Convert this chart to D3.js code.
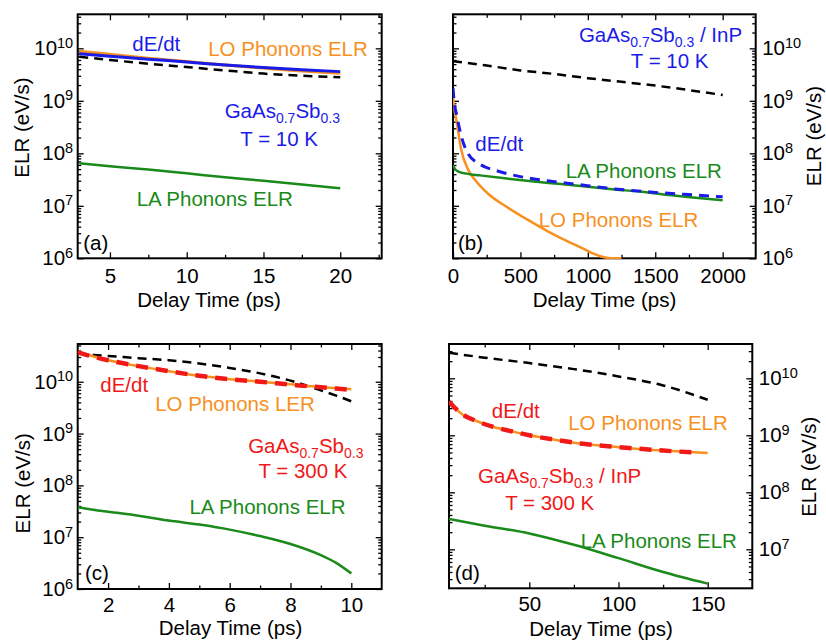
<!DOCTYPE html>
<html>
<head>
<meta charset="utf-8">
<script src="https://cdn.jsdelivr.net/npm/d3@7"></script>
<style>
  body { margin: 0; background: #fff; }
  svg { font-family: "Liberation Sans", Arial, sans-serif; }
  .frame { fill: none; stroke: #000; stroke-width: 2; }
  .curve { fill: none; stroke-linejoin: round; }
</style>
</head>
<body>
<svg class="chart" width="826" height="640"></svg>
<script>
// (a) GaAs0.7Sb0.3, T = 10 K
var timeA = [3, 5, 7.5, 10, 12.5, 15, 17.5, 20];
var loA   = [8.8e9, 7.7e9, 6.5e9, 5.6e9, 4.8e9, 4.2e9, 3.7e9, 3.35e9];
var dedtA = [7.9e9, 7.1e9, 6.2e9, 5.5e9, 4.8e9, 4.3e9, 3.9e9, 3.6e9];
var dashA = [6.9e9, 6.0e9, 5.1e9, 4.4e9, 3.8e9, 3.3e9, 3.0e9, 2.8e9];
var laA   = [6.5e7, 5.7e7, 4.9e7, 4.15e7, 3.5e7, 3.0e7, 2.55e7, 2.15e7];

// (b) GaAs0.7Sb0.3 / InP, T = 10 K
var timeB  = [0, 10, 25, 60, 110, 160, 260, 400, 550, 700, 850, 950, 1050, 1120, 1180, 1250];
var loB    = [1.2e9, 7e8, 4.3e8, 1.2e8, 5.0e7, 3.2e7, 1.7e7, 9.5e6, 5.5e6, 3.3e6, 2.1e6, 1.6e6, 1.2e6, 1.05e6, 1.0e6, 1.0e6];
var timeB2 = [0, 10, 25, 60, 110, 200, 330, 500, 700, 900, 1200, 1500, 1800, 2000];
var dedtB  = [1.75e9, 9e8, 5.7e8, 2.2e8, 1.0e8, 6.2e7, 4.6e7, 3.6e7, 3.0e7, 2.6e7, 2.1e7, 1.8e7, 1.6e7, 1.48e7];
var timeB3 = [0, 15, 40, 100, 200, 400, 600, 800, 1000, 1200, 1400, 1600, 1800, 2000];
var laB    = [6.0e7, 5.0e7, 4.5e7, 4.1e7, 3.8e7, 3.3e7, 2.9e7, 2.6e7, 2.3e7, 2.05e7, 1.85e7, 1.6e7, 1.42e7, 1.28e7];
var timeB4 = [0, 250, 500, 750, 1000, 1250, 1500, 1750, 2000];
var dashB  = [5.7e9, 4.7e9, 3.8e9, 3.25e9, 2.7e9, 2.3e9, 1.95e9, 1.6e9, 1.29e9];

// (c) GaAs0.7Sb0.3, T = 300 K
var timeC = [1, 1.5, 2, 3, 4, 5, 6, 7, 8, 9, 9.5, 10];
var loC   = [3.8e10, 3.1e10, 2.6e10, 2.0e10, 1.6e10, 1.3e10, 1.12e10, 1.0e10, 8.9e9, 7.9e9, 7.5e9, 7.2e9];
var dedtC = [3.7e10, 3.05e10, 2.6e10, 2.0e10, 1.6e10, 1.3e10, 1.12e10, 1.0e10, 8.8e9, 7.8e9, 7.4e9, 7.0e9];
var dashC = [3.5e10, 3.3e10, 3.15e10, 2.85e10, 2.6e10, 2.25e10, 1.85e10, 1.45e10, 1.05e10, 6.8e9, 5.4e9, 4.2e9];
var laC   = [3.8e7, 3.4e7, 3.1e7, 2.6e7, 2.1e7, 1.75e7, 1.4e7, 1.05e7, 7.4e6, 4.5e6, 3.2e6, 2.0e6];

// (d) GaAs0.7Sb0.3 / InP, T = 300 K
var timeD  = [5, 8, 12, 20, 30, 40, 50, 65, 80, 100, 125, 150];
var loD    = [3.9e9, 3.1e9, 2.4e9, 1.8e9, 1.4e9, 1.18e9, 1.0e9, 8.3e8, 7.1e8, 6.2e8, 5.4e8, 4.9e8];
var timeD2 = [5, 8, 12, 20, 30, 40, 50, 65, 80, 100, 125, 142];
var dedtD  = [3.9e9, 3.1e9, 2.4e9, 1.8e9, 1.4e9, 1.18e9, 1.0e9, 8.3e8, 7.1e8, 6.2e8, 5.4e8, 5.0e8];
var timeD3 = [5, 25, 50, 75, 100, 125, 150];
var dashD  = [2.8e10, 2.3e10, 1.85e10, 1.45e10, 1.08e10, 7.5e9, 4.2e9];
var laD    = [3.4e7, 2.6e7, 1.9e7, 1.2e7, 7.0e6, 4.0e6, 2.5e6];

// tick values
var xMajorA = [5, 10, 15, 20],            xMinorA = [7.5, 12.5, 17.5, 22.5];
var xMajorB = [0, 500, 1000, 1500, 2000], xMinorB = [250, 750, 1250, 1750];
var xMajorC = [2, 4, 6, 8, 10],           xMinorC = [3, 5, 7, 9];
var xMajorD = [50, 100, 150],             xMinorD = [25, 75, 125];
var yMajor = [1e6, 1e7, 1e8, 1e9, 1e10];

var svg = d3.select(".chart"),
    fs = 20.5;

var orange = "#f7901e", blue = "#1b1be8", green = "#1a8a1a", red = "#f01818";

function drawPanel(p) {
    var x = d3.scaleLinear().domain(p.xDomain).range([p.l, p.r]),
        y = d3.scaleLog().domain(p.yDomain).range([p.b, p.t]);

    var g = svg.append("g").attr("class", "panel");

    var yMinor = [];
    for (var e = 5; e <= 10; e++) {
        for (var k = 2; k <= 9; k++) {
            var v = k * Math.pow(10, e);
            if (v > p.yDomain[0] && v < p.yDomain[1]) yMinor.push(v);
        }
    }
    var yMaj = yMajor.filter(function(v) { return v >= p.yDomain[0] && v <= p.yDomain[1]; });

    // ticks on all four sides, pointing in
    function ticks(axis, tr) {
        var a = g.append("g").attr("transform", tr).call(axis);
        a.select(".domain").remove();
        a.selectAll("line").attr("stroke-width", 1.3);
        a.attr("font-size", fs).attr("font-family", null);
        return a;
    }
    ticks(d3.axisBottom(x).tickValues(p.xMinor).tickSize(-3.5).tickFormat(""), "translate(0," + p.b + ")");
    ticks(d3.axisTop(x).tickValues(p.xMinor).tickSize(-3.5).tickFormat(""), "translate(0," + p.t + ")");
    ticks(d3.axisTop(x).tickValues(p.xMajor).tickSize(-6).tickFormat(""), "translate(0," + p.t + ")");
    ticks(d3.axisLeft(y).tickValues(yMinor).tickSize(-3.5).tickFormat(""), "translate(" + p.l + ",0)");
    ticks(d3.axisRight(y).tickValues(yMinor).tickSize(-3.5).tickFormat(""), "translate(" + p.r + ",0)");

    var xa = ticks(d3.axisBottom(x).tickValues(p.xMajor).tickFormat(d3.format("d"))
            .tickSizeInner(-6).tickSizeOuter(0).tickPadding(p.xPad),
        "translate(0," + p.b + ")");
    xa.selectAll("text").attr("fill", "#000");

    var labelled = p.side === "left" ? d3.axisLeft(y) : d3.axisRight(y),
        plain = p.side === "left" ? d3.axisRight(y) : d3.axisLeft(y);
    ticks(plain.tickValues(yMaj).tickSize(-6).tickFormat(""),
        "translate(" + (p.side === "left" ? p.r : p.l) + ",0)");
    var ya = ticks(labelled.tickValues(yMaj).tickSizeInner(-6).tickSizeOuter(0)
            .tickPadding(p.side === "left" ? 4.5 : 6.5),
        "translate(" + (p.side === "left" ? p.l : p.r) + ",0)");
    ya.selectAll("text").attr("fill", "#000").text(null).each(function(d) {
        var t = d3.select(this);
        t.append("tspan").text("10");
        t.append("tspan").attr("dy", -7.4).attr("font-size", 14.5).text(Math.round(Math.log10(d)));
    });

    g.append("rect").attr("class", "frame")
        .attr("x", p.l).attr("y", p.t)
        .attr("width", p.r - p.l).attr("height", p.b - p.t);

    var clipId = "clip-" + p.id;
    g.append("clipPath").attr("id", clipId).append("rect")
        .attr("x", p.l).attr("y", p.t - 1).attr("width", p.r - p.l).attr("height", p.b - p.t + 2);

    var line = d3.line()
        .x(function(d) { return x(d[0]); })
        .y(function(d) { return y(d[1]); })
        .curve(d3.curveMonotoneX);

    p.series.forEach(function(s) {
        g.append("path").attr("class", "curve")
            .attr("clip-path", "url(#" + clipId + ")")
            .datum(d3.zip(s.t, s.v))
            .attr("d", line)
            .attr("stroke", s.color)
            .attr("stroke-width", s.w)
            .attr("stroke-dasharray", s.dash || null);
    });

    // annotations
    p.notes.forEach(function(n) {
        var t = g.append("text")
            .attr("x", n.x).attr("y", n.y)
            .attr("font-size", fs)
            .attr("fill", n.color)
            .attr("text-anchor", n.anchor || "middle");
        if (n.chem) {
            t.append("tspan").text("GaAs");
            t.append("tspan").attr("dy", 5).attr("font-size", 14).text("0.7");
            t.append("tspan").attr("dy", -5).text("Sb");
            t.append("tspan").attr("dy", 5).attr("font-size", 14).text("0.3");
            if (n.text) t.append("tspan").attr("dy", -5).text(n.text);
        } else {
            t.text(n.text);
        }
    });

    // axis titles
    g.append("text")
        .attr("x", p.xTitle[0]).attr("y", p.xTitle[1])
        .attr("text-anchor", "middle").attr("font-size", fs)
        .text("Delay Time (ps)");
    g.append("text")
        .attr("transform", "translate(" + p.yTitle[0] + "," + p.yTitle[1] + ") rotate(-90)")
        .attr("text-anchor", "middle").attr("dy", "0.35em").attr("font-size", fs)
        .text("ELR (eV/s)");
}

var dashBlack = "9,6";

drawPanel({
    id: "a", l: 77.7, t: 14.3, r: 381.7, b: 258.3,
    xDomain: [2.9, 22.7], yDomain: [1e6, 4.45e10], side: "left",
    xMajor: xMajorA, xMinor: xMinorA, xPad: 10,
    series: [
        { t: timeA, v: dashA, color: "#000", w: 2.5, dash: dashBlack },
        { t: timeA, v: laA, color: green, w: 2.5 },
        { t: timeA, v: loA, color: orange, w: 3 },
        { t: timeA, v: dedtA, color: blue, w: 3 }
    ],
    notes: [
        { text: "dE/dt", x: 156.3, y: 50.7, color: blue },
        { text: "LO Phonons ELR", x: 288, y: 55.5, color: orange },
        { chem: true, x: 282.3, y: 117.5, color: blue },
        { text: "T = 10 K", x: 279.2, y: 146, color: blue },
        { text: "LA Phonons ELR", x: 214.8, y: 206, color: green },
        { text: "(a)", x: 83.3, y: 249.5, color: "#000", anchor: "start" }
    ],
    xTitle: [209, 306.7], yTitle: [22, 127.5]
});

drawPanel({
    id: "b", l: 453, t: 14.3, r: 755.7, b: 258.3,
    xDomain: [0, 2245], yDomain: [1e6, 4.45e10], side: "right",
    xMajor: xMajorB, xMinor: xMinorB, xPad: 10,
    series: [
        { t: timeB4, v: dashB, color: "#000", w: 2.5, dash: dashBlack },
        { t: timeB, v: loB, color: orange, w: 2.5 },
        { t: timeB3, v: laB, color: green, w: 2.5 },
        { t: timeB2, v: dedtB, color: blue, w: 3, dash: "10,7" }
    ],
    notes: [
        { chem: true, text: " / InP", x: 660.5, y: 41.7, color: blue },
        { text: "T = 10 K", x: 669.7, y: 68.3, color: blue },
        { text: "dE/dt", x: 499.3, y: 150.7, color: blue },
        { text: "LA Phonons ELR", x: 643.8, y: 177.7, color: green },
        { text: "LO Phonons ELR", x: 618.5, y: 226.7, color: orange },
        { text: "(b)", x: 458, y: 249.5, color: "#000", anchor: "start" }
    ],
    xTitle: [604.5, 306.7], yTitle: [814, 136]
});

drawPanel({
    id: "c", l: 77.7, t: 344, r: 381.7, b: 589,
    xDomain: [1, 11], yDomain: [1e6, 5.35e10], side: "left",
    xMajor: xMajorC, xMinor: xMinorC, xPad: 8.5,
    series: [
        { t: timeC, v: dashC, color: "#000", w: 2.5, dash: dashBlack },
        { t: timeC, v: laC, color: green, w: 2.5 },
        { t: timeC, v: loC, color: orange, w: 2.5 },
        { t: timeC, v: dedtC, color: red, w: 4.5, dash: "12,8" }
    ],
    notes: [
        { text: "dE/dt", x: 124.2, y: 391.7, color: red },
        { text: "LO Phonons LER", x: 235, y: 410.7, color: orange },
        { chem: true, x: 305.8, y: 452.7, color: red },
        { text: "T = 300 K", x: 303, y: 478.3, color: red },
        { text: "LA Phonons ELR", x: 267.5, y: 514.3, color: green },
        { text: "(c)", x: 85, y: 580, color: "#000", anchor: "start" }
    ],
    xTitle: [230.5, 634.5], yTitle: [23, 483.3]
});

drawPanel({
    id: "d", l: 449, t: 344, r: 752.3, b: 588.3,
    xDomain: [5, 175], yDomain: [2.07e6, 4.0e10], side: "right",
    xMajor: xMajorD, xMinor: xMinorD, xPad: 8.5,
    series: [
        { t: timeD3, v: dashD, color: "#000", w: 2.5, dash: dashBlack },
        { t: timeD3, v: laD, color: green, w: 2.5 },
        { t: timeD, v: loD, color: orange, w: 2.5 },
        { t: timeD2, v: dedtD, color: red, w: 4.5, dash: "12,8" }
    ],
    notes: [
        { text: "dE/dt", x: 515.8, y: 418.3, color: red },
        { text: "LO Phonons ELR", x: 648, y: 430, color: orange },
        { chem: true, text: " / InP", x: 559.7, y: 482.7, color: red },
        { text: "T = 300 K", x: 549.7, y: 510, color: red },
        { text: "LA Phonons ELR", x: 658.8, y: 548.3, color: green },
        { text: "(d)", x: 454.7, y: 580, color: "#000", anchor: "start" }
    ],
    xTitle: [601, 635.5], yTitle: [809, 466.7]
});
</script>
</body>
</html>
